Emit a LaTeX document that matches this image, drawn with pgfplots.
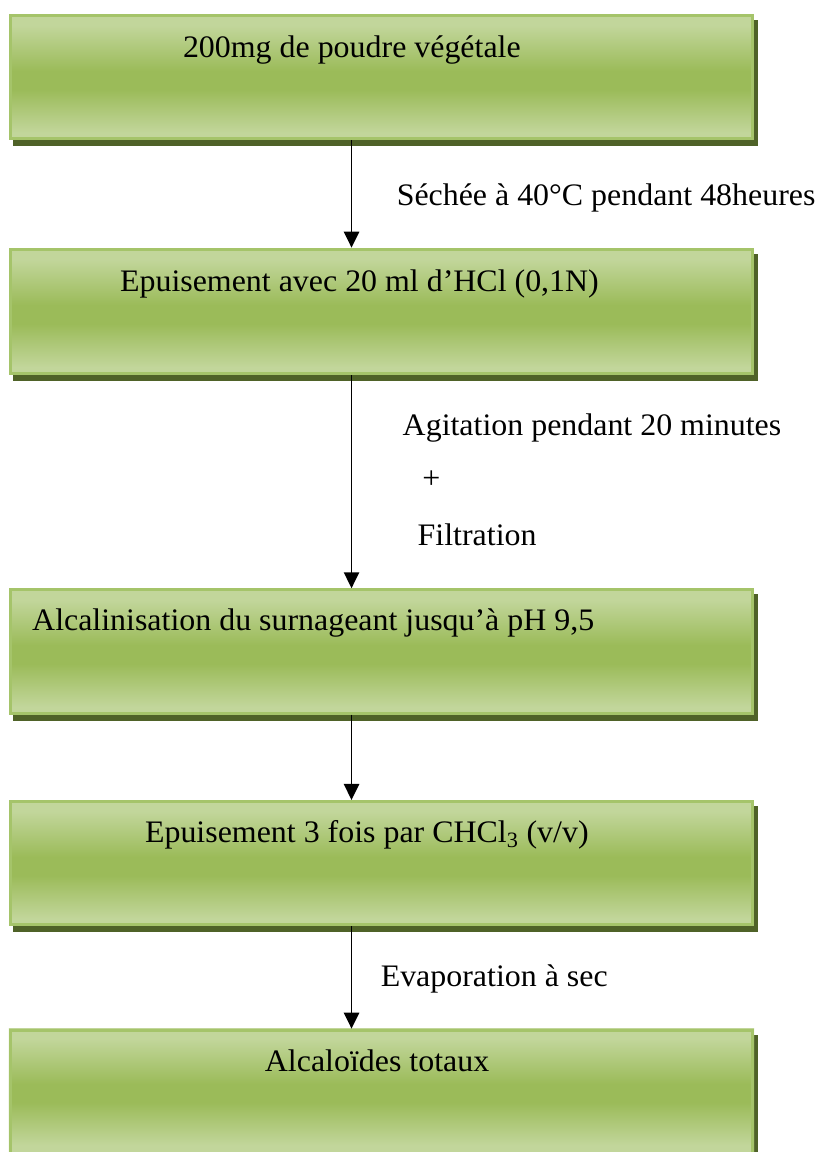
\documentclass[border=0pt]{standalone}
\usepackage{fontspec}
\setmainfont{Liberation Serif}
\usepackage{pgfplots}
\pgfplotsset{compat=1.18}
\usetikzlibrary{arrows.meta}
\definecolor{lightg}{HTML}{C2D69B}
\definecolor{midg}{HTML}{9BBB59}
\definecolor{bordg}{HTML}{A5C46A}
\definecolor{shadg}{HTML}{4F6228}
\pgfdeclareverticalshading{boxshade}{100bp}{color(0bp)=(lightg); color(27.5bp)=(lightg); color(45bp)=(midg); color(52.5bp)=(midg); color(71bp)=(lightg); color(100bp)=(lightg)}
\newcommand{\T}[1]{\scalebox{1.02}[1]{#1}}
\newcommand{\fs}{\fontsize{23.5pt}{28pt}\selectfont}
\newcommand{\gbox}[2]{%
  \addplot[fill=shadg, draw=none, mark=none] coordinates {(13,#1+6) (759,#1+6) (759,#2+6) (13,#2+6)} -- cycle;
  \addplot[shading=boxshade, draw=bordg, line width=2.25pt, mark=none] coordinates {(10.5,#1+1.5) (753.5,#1+1.5) (753.5,#2-1.5) (10.5,#2-1.5)} -- cycle;
}
\begin{document}
\begin{tikzpicture}
\begin{axis}[scale only axis, width=612pt, height=864.75pt,
  xmin=0, xmax=816, ymin=0, ymax=1153, y dir=reverse, hide axis, clip=false]
\addplot[draw=none, mark=none] coordinates {(0,0) (816,1153)};
\gbox{14}{140.5}
\gbox{248}{375.5}
\gbox{589}{715.5}
\gbox{801}{927.5}
% last box, cut at the bottom
\addplot[fill=shadg, draw=none, mark=none] coordinates {(755,1036) (759,1036) (759,1153) (755,1153)} -- cycle;
\addplot[shading=boxshade, draw=none, mark=none] coordinates {(9,1030) (755,1030) (755,1153) (9,1153)} -- cycle;
\addplot[draw=bordg, line width=2.25pt, mark=none] coordinates {(10.5,1153) (10.5,1031.5) (753.5,1031.5) (753.5,1153)};
% arrows
\tikzset{arr/.style={black, line width=1.3pt, mark=none, -{Triangle[width=11.5pt,length=12pt]}}}
\addplot[arr] coordinates {(352,140.5) (352,248)};
\addplot[arr] coordinates {(352,375.5) (352,589)};
\addplot[arr] coordinates {(352,715.5) (352,801)};
\addplot[arr] coordinates {(352,927.5) (352,1030)};
% texts
\tikzset{lbl/.style={anchor=base west, inner sep=0pt, font=\fs}}
\node[lbl] at (axis cs:183,58) {\T{200mg de poudre végétale}};
\node[lbl] at (axis cs:397,206) {\T{Séchée à 40°C pendant 48heures}};
\node[lbl] at (axis cs:120,292) {\T{Epuisement avec 20 ml d’HCl (0,1N)}};
\node[lbl] at (axis cs:403,436) {\T{Agitation pendant 20 minutes}};
\node[anchor=center, inner sep=0pt, font=\fs] at (axis cs:432,480) {\T{+}};
\node[lbl] at (axis cs:418,546) {\T{Filtration}};
\node[lbl] at (axis cs:32,631) {\T{Alcalinisation du surnageant jusqu’à pH 9,5}};
\node[lbl] at (axis cs:145,844) {\T{Epuisement 3 fois par CHCl\textsubscript{3} (v/v)}};
\node[lbl] at (axis cs:381,988) {\T{Evaporation à sec}};
\node[lbl] at (axis cs:265,1073) {\T{Alcaloïdes totaux}};
\end{axis}
\end{tikzpicture}
\end{document}
